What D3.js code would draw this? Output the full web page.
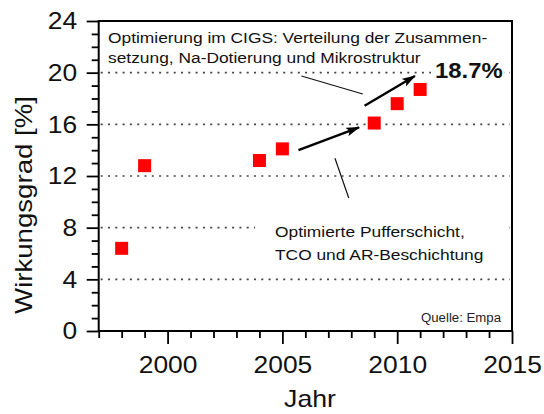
<!DOCTYPE html>
<html><head><meta charset="utf-8">
<script src="https://cdn.jsdelivr.net/npm/d3@7"></script>
<style>
body{margin:0;background:#fff;}
svg{display:block;font-family:"Liberation Sans",Arial,sans-serif;}
</style></head>
<body><svg id="chart" width="544" height="414"></svg>
<script>
const years = [1998, 1999, 2004, 2005, 2009, 2010, 2011];
const efficiency = [6.4, 12.8, 13.2, 14.1, 16.1, 17.6, 18.7];
const yMajorTicks = [0, 4, 8, 12, 16, 20, 24];
const xMajorTicks = [2000, 2005, 2010, 2015];
const gridValues = [4, 8, 12, 16, 20];
const topNote = ["Optimierung im CIGS: Verteilung der Zusammen-", "setzung, Na-Dotierung und Mikrostruktur"];
const bottomNote = ["Optimierte Pufferschicht,", "TCO und AR-Beschichtung"];
const peakLabel = "18.7%";
const sourceLabel = "Quelle: Empa";
// arrows and leader lines in data coordinates [year, value]
const arrows = [
  [[2005.7, 14.0], [2008.34, 15.77]],
  [[2008.58, 17.44], [2010.77, 19.74]]
];
const leaders = [
  [[2005.83, 19.74], [2008.5, 18.35]],
  [[2007.29, 13.37], [2007.89, 10.3]]
];

const svg = d3.select("#chart");
const L = 98.7, R = 512, T = 21, B = 331;
const x = d3.scaleLinear().domain([1997, 2015]).range([L, R]);
const y = d3.scaleLinear().domain([0, 24]).range([B, T]);

// widen glyphs horizontally (reference font is wider than Liberation Sans)
function stretch(sel, k) {
  sel.each(function () {
    const w = this.getComputedTextLength();
    d3.select(this).attr("textLength", w * k).attr("lengthAdjust", "spacingAndGlyphs");
  });
}

svg.append("defs").append("marker")
  .attr("id", "ah").attr("viewBox", "0 0 14 9").attr("refX", 13).attr("refY", 4.5)
  .attr("markerWidth", 14).attr("markerHeight", 9).attr("markerUnits", "userSpaceOnUse")
  .attr("orient", "auto")
  .append("path").attr("d", "M0,0 L14,4.5 L0,9 L3,4.5 Z").attr("fill", "#000");

// gridlines
svg.append("g").selectAll("line").data(gridValues).join("line")
  .attr("x1", L + 2).attr("x2", R - 2)
  .attr("y1", d => y(d)).attr("y2", d => y(d))
  .attr("stroke", "#444").attr("stroke-width", 1.6)
  .attr("stroke-dasharray", "2,5.3");

// white boxes behind notes
svg.append("rect").attr("x", 255).attr("y", 220).attr("width", 250).attr("height", 46).attr("fill", "#fff");
svg.append("rect").attr("x", 431).attr("y", 58).attr("width", 73).attr("height", 24).attr("fill", "#fff");

// axes
const gy = svg.append("g").attr("transform", `translate(${L},0)`);
gy.call(d3.axisLeft(y).tickValues(d3.range(0, 25, 1).filter(v => v % 4)).tickSize(7).tickFormat(""));
gy.call(g => g.select(".domain").remove());
const gyM = svg.append("g").attr("transform", `translate(${L},0)`)
  .call(d3.axisLeft(y).tickValues(yMajorTicks).tickSize(12).tickPadding(9.5).tickFormat(d3.format("d")));
gyM.select(".domain").remove();
[gy, gyM].forEach(g => g.selectAll(".tick line").attr("stroke", "#000").attr("stroke-width", 1.8));
gyM.selectAll("text").attr("font-size", 24).attr("fill", "#111").attr("font-family", "Liberation Sans, Arial, sans-serif");

const gx = svg.append("g").attr("transform", `translate(0,${B})`);
gx.call(d3.axisBottom(x).tickValues(d3.range(1997, 2016, 1).filter(v => v % 5)).tickSize(7).tickFormat(""));
gx.select(".domain").remove();
const gxM = svg.append("g").attr("transform", `translate(0,${B})`)
  .call(d3.axisBottom(x).tickValues(xMajorTicks).tickSize(13).tickPadding(12).tickFormat(d3.format("d")));
gxM.select(".domain").remove();
[gx, gxM].forEach(g => g.selectAll(".tick line").attr("stroke", "#000").attr("stroke-width", 1.8));
gxM.selectAll("text").attr("font-size", 24).attr("fill", "#111").attr("font-family", "Liberation Sans, Arial, sans-serif");

// frame
svg.append("rect").attr("x", L).attr("y", T).attr("width", R - L).attr("height", B - T)
  .attr("fill", "none").attr("stroke", "#000").attr("stroke-width", 2);

// points
const s = 13;
svg.append("g").selectAll("rect").data(years).join("rect")
  .attr("x", (d) => x(d) - s / 2)
  .attr("y", (d, i) => y(efficiency[i]) - s / 2)
  .attr("width", s).attr("height", s).attr("fill", "#ff0000");

// leader lines
svg.append("g").selectAll("line").data(leaders).join("line")
  .attr("x1", d => x(d[0][0])).attr("y1", d => y(d[0][1]))
  .attr("x2", d => x(d[1][0])).attr("y2", d => y(d[1][1]))
  .attr("stroke", "#111").attr("stroke-width", 1.2);

// arrows
svg.append("g").selectAll("line").data(arrows).join("line")
  .attr("x1", d => x(d[0][0])).attr("y1", d => y(d[0][1]))
  .attr("x2", d => x(d[1][0])).attr("y2", d => y(d[1][1]))
  .attr("stroke", "#000").attr("stroke-width", 2.4).attr("marker-end", "url(#ah)");

// notes
const tn = svg.append("text").attr("font-size", 15.5).attr("fill", "#111");
topNote.forEach((t, i) => tn.append("tspan").attr("x", 108).attr("y", 43 + i * 20).text(t));
const bn = svg.append("text").attr("font-size", 15.5).attr("fill", "#111");
bottomNote.forEach((t, i) => bn.append("tspan").attr("x", 275).attr("y", 237 + i * 23).text(t));
const pk = svg.append("text").attr("x", 435).attr("y", 78).attr("font-size", 22.5).attr("font-weight", "bold").attr("fill", "#111").text(peakLabel);
const src = svg.append("text").attr("x", 501).attr("y", 322).attr("text-anchor", "end").attr("font-size", 12).attr("fill", "#222").text(sourceLabel);

// axis titles
const xt = svg.append("text").attr("x", 310).attr("y", 407).attr("text-anchor", "middle").attr("font-size", 24).attr("fill", "#111").text("Jahr");
const yt = svg.append("text").attr("transform", "translate(32,205) rotate(-90)").attr("text-anchor", "middle").attr("font-size", 24).attr("fill", "#111").text("Wirkungsgrad [%]");

stretch(tn.selectAll("tspan"), 1.12);
stretch(bn.selectAll("tspan"), 1.12);
stretch(gyM.selectAll("text"), 1.1);
stretch(gxM.selectAll("text"), 1.1);
stretch(pk, 1.06);
stretch(src, 1.1);
stretch(xt, 1.11);
stretch(yt, 1.15);
</script></body></html>
